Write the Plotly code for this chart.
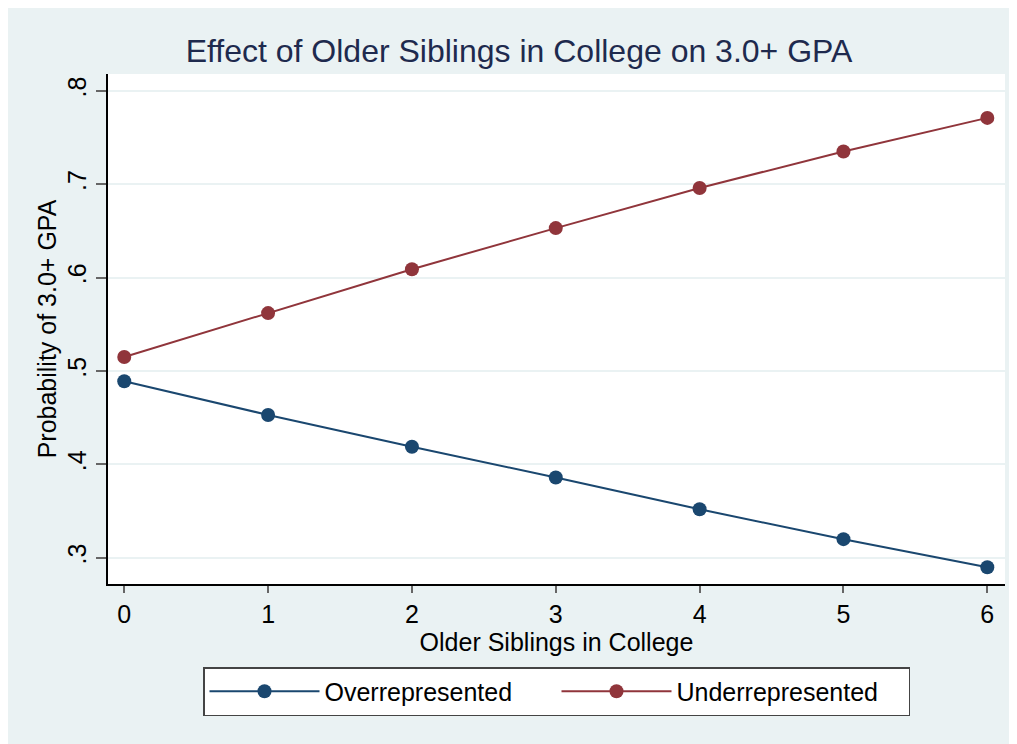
import plotly.graph_objects as go

siblings = [0, 1, 2, 3, 4, 5, 6]
over = [0.489, 0.453, 0.419, 0.386, 0.352, 0.320, 0.290]
under = [0.515, 0.562, 0.609, 0.653, 0.696, 0.735, 0.771]
series_names = ["Overrepresented", "Underrepresented"]
y_tickvals = [0.3, 0.4, 0.5, 0.6, 0.7, 0.8]
y_ticktext = [".3", ".4", ".5", ".6", ".7", ".8"]

NAVY = "#1a476f"
MAROON = "#90353b"
BG = "#eaf2f3"
FONT = "Liberation Sans, Arial, Helvetica, sans-serif"

fig = go.Figure()
for name, vals, col in [(series_names[0], over, NAVY), (series_names[1], under, MAROON)]:
    fig.add_trace(go.Scatter(
        x=siblings, y=vals, name=name, mode="lines+markers",
        line=dict(color=col, width=2),
        marker=dict(color=col, size=14),
    ))

W, H = 1017, 744
L, R, T, B = 100, 20, 66, 168
pw, ph = W - L - R, H - T - B

fig.update_layout(
    width=W, height=H,
    margin=dict(l=L, r=R, t=T, b=B),
    paper_bgcolor=BG, plot_bgcolor="white",
    font=dict(family=FONT, color="black", size=25),
    title=dict(text="Effect of Older Siblings in College on 3.0+ GPA",
               xref="container", x=511 / W, xanchor="center",
               yref="container", y=1 - 43 / H, yanchor="middle",
               font=dict(size=32, color="#1e2a4e", family=FONT)),
    xaxis=dict(range=[-0.113, 6.123], tickvals=siblings, showgrid=False, zeroline=False,
               showline=True, linecolor="black", linewidth=1.5,
               ticks="outside", ticklen=7, tickwidth=2, tickcolor="#666666",
               tickfont=dict(size=25),
               title=dict(text="Older Siblings in College", font=dict(size=25), standoff=0)),
    yaxis=dict(range=[0.272, 0.818], tickvals=y_tickvals, ticktext=y_ticktext,
               tickangle=-90, showgrid=True, gridcolor=BG, gridwidth=2, zeroline=False,
               showline=True, linecolor="black", linewidth=1.5,
               ticks="outside", ticklen=10, tickwidth=2, tickcolor="#666666",
               tickfont=dict(size=25),
               title=dict(text="Probability of 3.0+ GPA", font=dict(size=25), standoff=0)),
    legend=dict(orientation="h", x=(195 - L) / pw, xanchor="left",
                y=(H - B - 659) / ph, yanchor="top",
                bgcolor="white", bordercolor="#444444", borderwidth=1.5,
                font=dict(size=25), itemwidth=110,
                entrywidth=227, entrywidthmode="pixels"),
)

fig.write_html("out.html")
